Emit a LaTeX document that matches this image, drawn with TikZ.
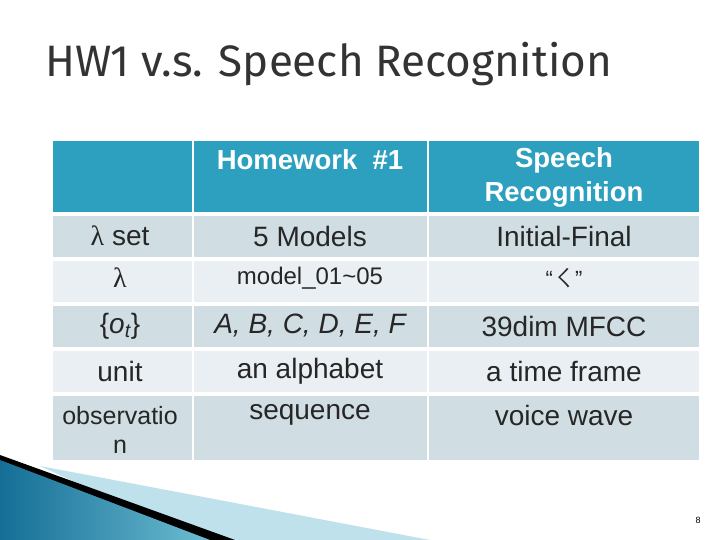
\documentclass[tikz,border=0pt]{standalone}
\usepackage{fontspec}
\setmainfont{Liberation Sans}
\newfontfamily\titlefont{Fira Sans}
\newfontfamily\cjk{Noto Sans CJK TC}
\newfontfamily\serifl{Liberation Serif}
\begin{document}
\begin{tikzpicture}[x=1pt,y=-1pt,
  hdr/.style={fill=hdrc,draw=white,line width=1.5pt},
  oddr/.style={fill=oddc,draw=white,line width=1.5pt},
  evenr/.style={fill=evenc,draw=white,line width=1.5pt},
  cell/.style={font=\fontsize{28}{30}\selectfont,text=black!85,align=center,inner sep=0pt},
  hcell/.style={font=\fontsize{27.5}{34}\selectfont\bfseries,text=white,align=center,inner sep=0pt}]
\definecolor{hdrc}{RGB}{46,160,191}
\definecolor{oddc}{RGB}{208,222,228}
\definecolor{evenc}{RGB}{233,239,242}
\definecolor{deepblue}{RGB}{20,110,150}
\definecolor{lightb}{RGB}{190,225,235}
\useasboundingbox (0,0) rectangle (720,540);
\node[anchor=west,font=\fontsize{44}{48}\selectfont\titlefont,text=black!80] (title) at (42,64) {HW1 v.s. Speech Recognition};
% table
\path[hdr] (52,140) rectangle (700,213);
\draw[white,line width=1.5pt] (193,140) -- (193,213) (428,140) -- (428,213);
\foreach \a/\b/\s in {215/258/oddr,260/303/evenr,305/348/oddr,350/393/evenr,395/461/oddr}{
  \path[\s] (52,\a) rectangle (193,\b);
  \path[\s] (193,\a) rectangle (428,\b);
  \path[\s] (428,\a) rectangle (700,\b);
}
\node[hcell] (h1) at (310,160) {Homework\ \ \#1};
\node[hcell] (h2) at (564,177) {Speech\\Recognition};
\node[cell] (a1) at (120,236) {{\serifl λ} set};
\node[cell] (b1) at (310,236) {5 Models};
\node[cell] (c1) at (564,236) {Initial-Final};
\node[cell] (a2) at (120,278) {\serifl λ};
\node[cell,font=\fontsize{24}{26}\selectfont] (b2) at (310,278) {model\_01\textasciitilde 05};
\node[cell,font=\fontsize{22}{26}\selectfont] (c2) at (564,278) {“{\cjk ㄑ}”};
\node[cell] (a3) at (120,326) {\{{\itshape o}\textsubscript{\itshape t}\}};
\node[cell] (b3) at (310,326) {\itshape A, B, C, D, E, F};
\node[cell] (c3) at (564,326) {39dim MFCC};
\node[cell] (a4) at (120,371) {unit};
\node[cell] (b4) at (310,371) {an alphabet};
\node[cell] (c4) at (564,371) {a time frame};
\node[cell,font=\fontsize{25}{29}\selectfont] (a5) at (120,430) {observatio\\n};
\node[cell] (b5) at (310,415) {sequence};
\node[cell] (c5) at (564,415) {voice wave};
% decoration
\fill[lightb] (40,466) -- (430,540) -- (200,540) -- cycle;
\fill[black] (0,455) -- (235,540) -- (200,540) -- (0,462) -- cycle;
\shade[left color=deepblue,right color=hdrc!70] (0,460) -- (210,540) -- (0,540) -- cycle;
\node[font=\fontsize{9}{10}\selectfont] (pg) at (698,520) {8};
\end{tikzpicture}
\end{document}
